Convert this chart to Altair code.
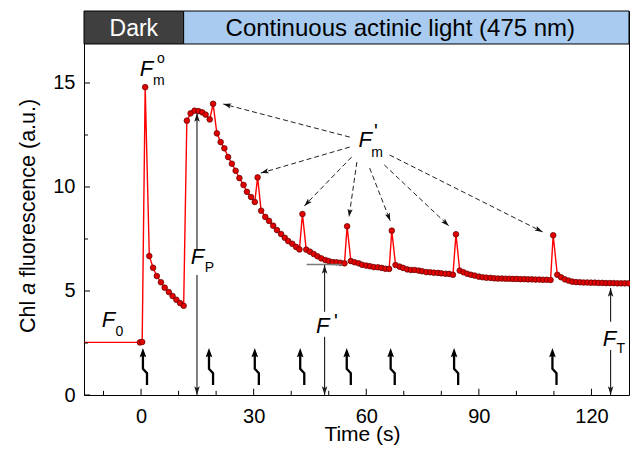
import math
import altair as alt
import pandas as pd

# ---------------- data ----------------
time_s = [-15.2, -0.3, 0.3, 1.1, 2.2, 3.2, 4.2, 5.3, 6.3, 7.4, 8.4, 9.4, 10.4, 11.35,
          12.2, 13.2, 14.25, 15.3, 16.3, 17.2, 18.3, 19.2, 20.2, 21.2, 22.2, 23.2, 24.2,
          25.2, 26.2, 27.3, 28.2, 29.3, 30.3, 31.05, 32.0, 33.1, 34.1, 35.2, 36.2, 37.3,
          38.3, 39.2, 40.3, 41.3, 42.2, 43.0, 44.0, 45.0, 46.0, 47.0, 48.0, 49.1, 50.0,
          51.1, 52.1, 53.1, 54.2, 54.9, 55.9, 56.9, 58.0, 58.9, 60.0, 61.0, 62.0, 63.1,
          64.1, 65.1, 66.1, 66.8, 67.8, 68.9, 69.8, 70.9, 71.9, 72.9, 74.0, 74.9, 76.0,
          77.0, 78.0, 79.1, 80.0, 81.1, 82.1, 83.1, 83.9, 84.9, 85.9, 86.9, 87.9, 88.9,
          90.0, 91.0, 92.0, 93.1, 94.1, 95.1, 96.1, 97.1, 98.1, 99.1, 100.1, 101.1, 102.1,
          103.1, 104.1, 105.1, 106.1, 107.1, 108.1, 109.1, 109.8, 110.9, 111.9, 112.9,
          113.9, 114.9, 115.9, 116.9, 117.9, 118.9, 119.9, 120.9, 121.9, 122.9, 123.9,
          124.9, 125.9, 126.9, 127.9, 128.9, 129.9]
fluor = [2.53, 2.53, 2.55, 14.8, 6.68, 6.12, 5.72, 5.42, 5.16, 4.95, 4.76, 4.58, 4.42, 4.29,
         13.19, 13.54, 13.67, 13.65, 13.59, 13.48, 13.25, 14.0, 12.58, 12.16, 11.86, 11.44, 11.12,
         10.78, 10.43, 10.1, 9.77, 9.52, 9.28, 10.46, 8.86, 8.56, 8.37, 8.14, 7.93, 7.74,
         7.56, 7.40, 7.27, 7.12, 7.00, 8.70, 6.99, 6.89, 6.78, 6.67, 6.57, 6.49, 6.44,
         6.39, 6.38, 6.36, 6.33, 8.11, 6.44, 6.38, 6.33, 6.26, 6.22, 6.19, 6.15, 6.14,
         6.11, 6.07, 6.06, 7.90, 6.25, 6.17, 6.11, 6.04, 6.01, 6.01, 5.98, 5.95, 5.91,
         5.90, 5.88, 5.87, 5.85, 5.83, 5.82, 5.78, 7.73, 5.98, 5.90, 5.83, 5.78, 5.74,
         5.69, 5.66, 5.64, 5.63, 5.61, 5.60, 5.60, 5.59, 5.59, 5.58, 5.58, 5.57, 5.57,
         5.56, 5.56, 5.55, 5.55, 5.54, 5.54, 5.53, 7.68, 5.78, 5.66, 5.56,
         5.50, 5.45, 5.43, 5.42, 5.41, 5.41, 5.40, 5.40, 5.39, 5.39, 5.38,
         5.38, 5.38, 5.37, 5.37, 5.37, 5.37]
flash_times = [0.5, 18.1, 30.3, 42.4, 54.8, 66.5, 83.4, 109.6]

x_domain = [-15.2, 130]
plot_top = 16.875          # top of the data area (header sits above it)
y_domain = [0, 18.4615]    # includes header band
dark_end = 11.35
header_labels = ["Dark", "Continuous actinic light (475 nm)"]
header_text_f = 17.27
x_ticks_major = [0, 30, 60, 90, 120]
x_ticks_minor = [-10, 10, 20, 40, 50, 70, 80, 100, 110]
y_ticks_major = [0, 5, 10, 15]
y_ticks_minor = [2.5, 7.5, 12.5]

# annotation anchor points (data units)
f_italic_t = [1.45, -8.7, 15.0, 48.4, 124.8, 59.7]
f_italic_f = [15.34, 3.27, 6.3, 2.98, 2.36, 11.92]
sub_text = ["m", "o", "0", "P", "T", "m"]
sub_t = [4.75, 5.27, -5.8, 18.2, 127.8, 62.9]
sub_f = [14.9, 15.96, 2.84, 5.9, 2.02, 11.46]
prime_t = [51.9, 62.55]
prime_f = [3.24, 12.34]

# dashed arrows F'm -> spikes (start t, start f, end t, end f)
dash_t = [55.6, 55.6, 56.1, 57.5, 60.9, 64.8, 66.2]
dash_f = [12.40, 11.92, 11.44, 11.20, 10.91, 11.06, 11.54]
dash_t2 = [21.9, 31.9, 43.5, 55.4, 66.4, 82.0, 107.0]
dash_f2 = [13.99, 10.67, 9.09, 8.56, 8.37, 8.13, 7.84]

# vertical double arrows (x, top, gap top, gap bottom)
varrow_t = [14.9, 48.9, 125.1]
varrow_top = [13.55, 6.25, 5.14]
varrow_gap_hi = [6.97, 4.0, 3.52]
varrow_gap_lo = [5.77, 2.8, 2.16]
fprime_line_t = [44.1, 53.6]
fprime_line_f = 6.28
flash_level = 1.37

# ---------------- helpers ----------------
FONT = "Liberation Sans"
W, H = 545, 384
PX_T = W / (x_domain[1] - x_domain[0])
PX_F = H / (y_domain[1] - y_domain[0])

xs = alt.Scale(domain=x_domain, nice=False, zero=False)
ys = alt.Scale(domain=y_domain, nice=False, zero=False)
x_axis = alt.Axis(values=x_ticks_major, ticks=False, domain=False, grid=False,
                  labelFontSize=20, labelPadding=11, labelFont=FONT, labelColor="black",
                  title=None)
y_axis = alt.Axis(values=y_ticks_major, ticks=False, domain=False, grid=False,
                  labelFontSize=20, labelPadding=9, labelFont=FONT, labelColor="black",
                  title=None)


def X(f="t"):
    return alt.X(f + ":Q", scale=xs, axis=x_axis)


def Y(f="f"):
    return alt.Y(f + ":Q", scale=ys, axis=y_axis)


def angle_of(t0, f0, t1, f1):
    dx = (t1 - t0) * PX_T
    dy = -(f1 - f0) * PX_F
    return math.degrees(math.atan2(dx, -dy)) % 360


ARROW = "M0,0L-0.32,1L0,0.78L0.32,1Z"

series = pd.DataFrame({"t": time_s, "f": fluor})
series["marker"] = [i > 0 for i in range(len(time_s))]

# header band
hdr = pd.DataFrame({"t": [x_domain[0], dark_end], "t2": [dark_end, x_domain[1]],
                    "label": header_labels})
hdr["f"] = plot_top
hdr["f2"] = y_domain[1]
hdr["mid"] = (hdr["t"] + hdr["t2"]) / 2
hdr["ft"] = header_text_f
h_rect = alt.Chart(hdr).mark_rect(stroke="black", strokeWidth=1).encode(
    x=X(), x2="t2:Q", y=Y(), y2="f2:Q",
    fill=alt.Fill("label:N", scale=alt.Scale(domain=header_labels,
                                             range=["#3f3f3f", "#a9cbef"]), legend=None))
h_dark = alt.Chart(hdr).transform_filter("datum.label == 'Dark'").mark_text(
    font=FONT, fontSize=23, color="white", baseline="alphabetic").encode(
    x=X("mid"), y=Y("ft"), text="label:N")
h_light = alt.Chart(hdr).transform_filter("datum.label != 'Dark'").mark_text(
    font=FONT, fontSize=24, color="black", baseline="alphabetic", dx=-6).encode(
    x=X("mid"), y=Y("ft"), text="label:N")

# inward ticks
xt = pd.DataFrame({"t": x_ticks_major + x_ticks_minor,
                   "f2": [0.3] * len(x_ticks_major) + [0.2] * len(x_ticks_minor)})
xt["f"] = 0.0
yt = pd.DataFrame({"f": y_ticks_major + y_ticks_minor,
                   "t2": [x_domain[0] + 1.6] * len(y_ticks_major)
                   + [x_domain[0] + 1.05] * len(y_ticks_minor)})
yt["t"] = x_domain[0]

ticks_x = alt.Chart(xt).mark_rule(color="black", strokeWidth=1).encode(
    x=X(), y=Y(), y2="f2:Q")
ticks_y = alt.Chart(yt).mark_rule(color="black", strokeWidth=1).encode(
    y=Y(), x=X(), x2="t2:Q")

line = alt.Chart(series).mark_line(color="#ff0000", strokeWidth=1.4).encode(x=X(), y=Y())
pts = alt.Chart(series).transform_filter("datum.marker").mark_point(
    filled=True, fill="#e10000", stroke="#5a0000", strokeWidth=0.7, size=32, opacity=1
).encode(x=X(), y=Y())

# F' horizontal level line
fl = pd.DataFrame({"t": [fprime_line_t[0]], "t2": [fprime_line_t[1]], "f": [fprime_line_f]})
fprime_line = alt.Chart(fl).mark_rule(color="#7a7a7a", strokeWidth=1.5).encode(
    x=X(), x2="t2:Q", y=Y())

# vertical arrows
seg_rows, head_rows = [], []
for t, top, hi, lo in zip(varrow_t, varrow_top, varrow_gap_hi, varrow_gap_lo):
    seg_rows.append({"t": t, "f": top, "f2": hi})
    seg_rows.append({"t": t, "f": lo, "f2": 0.0})
    head_rows.append({"t": t, "f": top, "ang": 0})
    head_rows.append({"t": t, "f": 0.0, "ang": 180})
vseg = alt.Chart(pd.DataFrame(seg_rows)).mark_rule(color="#1a1a1a", strokeWidth=1.1).encode(
    x=X(), y=Y(), y2="f2:Q")
vhead = alt.Chart(pd.DataFrame(head_rows)).mark_point(
    shape=ARROW, filled=True, color="#1a1a1a", size=300, opacity=1
).encode(x=X(), y=Y(), angle=alt.Angle("ang:Q", scale=None))

# dashed arrows
dd = pd.DataFrame({"t": dash_t, "f": dash_f, "t2": dash_t2, "f2": dash_f2})
dd["ang"] = [angle_of(a, b, c, d) for a, b, c, d in zip(dash_t, dash_f, dash_t2, dash_f2)]
dash = alt.Chart(dd).mark_rule(color="#222222", strokeWidth=1, strokeDash=[5, 3]).encode(
    x=X(), y=Y(), x2="t2:Q", y2="f2:Q")
dhead = alt.Chart(dd).mark_point(
    shape=ARROW, filled=True, color="#111111", size=256, opacity=1
).encode(x=X("t2"), y=Y("f2"), angle=alt.Angle("ang:Q", scale=None))

# flash symbols
fd = pd.DataFrame({"t": flash_times})
fd["f"] = flash_level
flash_stem = alt.Chart(fd).mark_point(
    shape="M0,-0.62L0,0.12L0.22,0.36L0.22,1", filled=False, stroke="black",
    strokeWidth=2.3, size=1369, opacity=1
).encode(x=X(), y=Y())
flash_head = alt.Chart(fd).mark_point(
    shape="M0,-1L0.18,-0.5L0,-0.58L-0.18,-0.5Z", filled=True, color="black",
    size=1369, opacity=1
).encode(x=X(), y=Y())

# labels
fi = pd.DataFrame({"t": f_italic_t, "f": f_italic_f, "txt": ["F"] * len(f_italic_t)})
f_text = alt.Chart(fi).mark_text(font=FONT, fontSize=22, fontStyle="italic",
                                 align="center", baseline="alphabetic", color="black").encode(
    x=X(), y=Y(), text="txt:N")
sd = pd.DataFrame({"t": sub_t, "f": sub_f, "txt": sub_text})
sub_tx = alt.Chart(sd).mark_text(font=FONT, fontSize=14, align="center",
                                 baseline="alphabetic", color="black").encode(
    x=X(), y=Y(), text="txt:N")
pr = pd.DataFrame({"t": prime_t, "f": prime_f, "txt": ["'"] * len(prime_t)})
prime_tx = alt.Chart(pr).mark_text(font=FONT, fontSize=20, align="center",
                                   baseline="alphabetic", color="black").encode(
    x=X(), y=Y(), text="txt:N")

# axis titles as text (y title has an italic "a")
titles = pd.DataFrame({"txt": ["Chl", "a", "fluorescence (a.u.)", "Time (s)"],
                       "style": ["normal", "italic", "normal", "normal"]})
title_pos = {"Chl": (-49, 322), "a": (-49, 283.8), "fluorescence (a.u.)": (-49, 265.9),
             "Time (s)": (278.5, 429.5)}
title_layers = []
for txt, style in zip(titles["txt"], titles["style"]):
    vertical = txt != "Time (s)"
    px, py = title_pos[txt]
    title_layers.append(
        alt.Chart(titles).transform_filter(alt.datum.txt == txt).mark_text(
            font=FONT, fontSize=21.5 if vertical else 21, fontStyle=style,
            angle=270 if vertical else 0, align="left" if vertical else "center",
            baseline="alphabetic", color="black"
        ).encode(x=alt.value(px), y=alt.value(py), text="txt:N"))

chart = alt.layer(h_rect, h_dark, h_light, line, pts, ticks_x, ticks_y, fprime_line,
                  vseg, vhead, dash, dhead, flash_stem, flash_head, f_text, sub_tx,
                  prime_tx, *title_layers
                  ).properties(
    width=W, height=H,
    autosize=alt.AutoSizeParams(type="none"),
    padding={"left": 76, "top": 3, "right": 1, "bottom": 50},
).configure_view(stroke="black", strokeWidth=1)

chart.save("out.html", embed_options={"renderer": "svg", "actions": False})
